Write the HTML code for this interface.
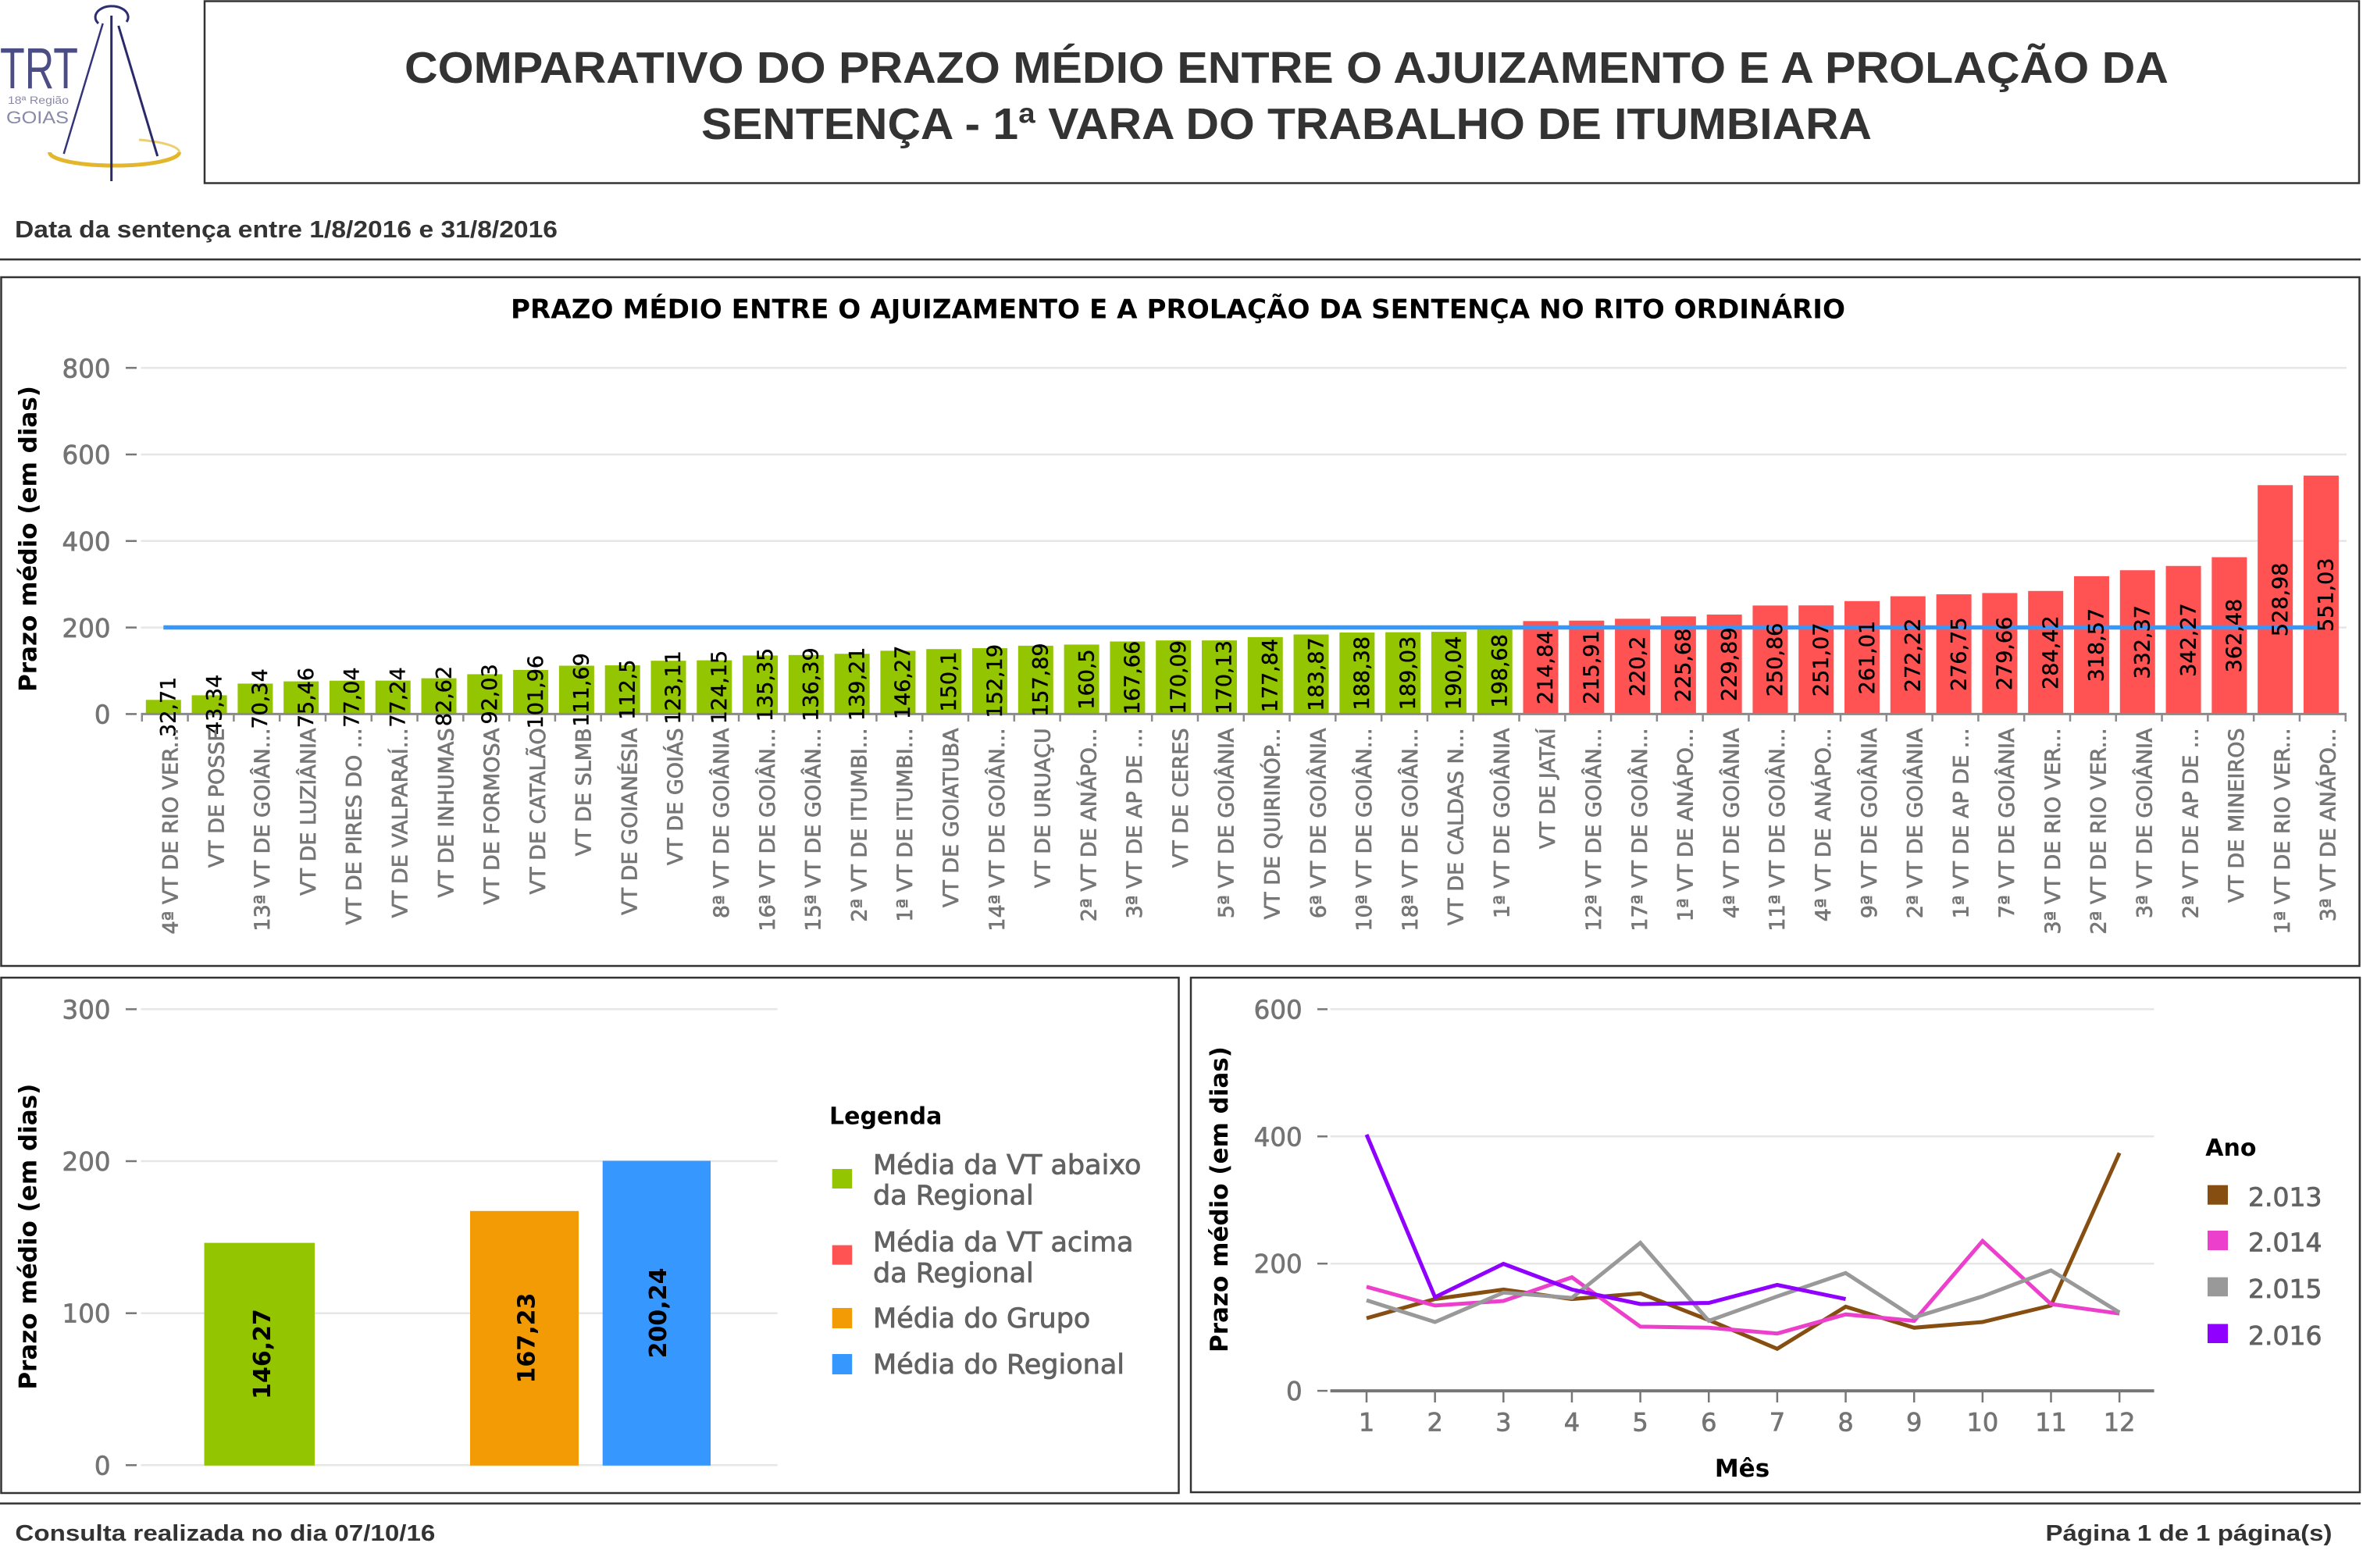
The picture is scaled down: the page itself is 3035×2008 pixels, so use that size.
<!DOCTYPE html>
<html><head><meta charset="utf-8"><style>
html,body{margin:0;padding:0;background:#fff;}
svg{display:block;}
.h{font-family:"Liberation Sans",Arial,sans-serif;font-weight:bold;fill:#333;}
.d{font-family:"DejaVu Sans",Verdana,sans-serif;}
.g{stroke:#747474;stroke-width:0.7;}
.gl{stroke:#626262;stroke-width:0.8;}
.bk{stroke:#000;stroke-width:0.4;}
</style></head><body>
<svg width="3035" height="2008" viewBox="0 0 3035 2008" xmlns="http://www.w3.org/2000/svg">
<rect width="3035" height="2008" fill="#fff"/>
<!-- Logo -->
<g>
<path d="M 63.5,195 A 83 17 0 0 0 229.5,195" fill="none" stroke="#e3b62c" stroke-width="5"/>
<path d="M 178,179 A 83 17 0 0 1 229.5,195" fill="none" stroke="#ecd070" stroke-width="3"/>
<path d="M 126,30 A 21 14 0 1 1 162,28" fill="none" stroke="#2d2d72" stroke-width="3"/>
<line x1="142.7" y1="20" x2="142.7" y2="232" stroke="#2a2a6a" stroke-width="3"/>
<line x1="131.7" y1="30" x2="81.7" y2="197" stroke="#34347a" stroke-width="2.5"/>
<line x1="151.7" y1="33" x2="201.7" y2="200" stroke="#2a2a6a" stroke-width="3"/>
<text x="0" y="113" font-family="Liberation Sans, Arial, sans-serif" font-size="74" fill="#4d4d85" textLength="100" lengthAdjust="spacingAndGlyphs">TRT</text>
<text x="10" y="133" font-family="Liberation Sans, Arial, sans-serif" font-size="14" fill="#8a8aa5" textLength="78" lengthAdjust="spacingAndGlyphs">18ª Região</text>
<text x="8" y="158" font-family="Liberation Sans, Arial, sans-serif" font-size="22" fill="#8888a8" textLength="80" lengthAdjust="spacingAndGlyphs">GOIAS</text>
</g>
<!-- Header -->
<rect x="262" y="1.5" width="2759" height="233" fill="none" stroke="#333" stroke-width="2.5"/>
<text class="h" x="518" y="106" font-size="57" textLength="2259" lengthAdjust="spacingAndGlyphs">COMPARATIVO DO PRAZO MÉDIO ENTRE O AJUIZAMENTO E A PROLAÇÃO DA</text>
<text class="h" x="898" y="178" font-size="57" textLength="1499" lengthAdjust="spacingAndGlyphs">SENTENÇA - 1ª VARA DO TRABALHO DE ITUMBIARA</text>
<text class="h" x="19" y="304" font-size="31" textLength="695" lengthAdjust="spacingAndGlyphs">Data da sentença entre 1/8/2016  e 31/8/2016</text>
<line x1="0" y1="332.3" x2="3023" y2="332.3" stroke="#333" stroke-width="2.5"/>

<!-- TOP CHART -->
<rect x="1.5" y="355" width="3020" height="882" fill="none" stroke="#333" stroke-width="2.5"/>
<text class="d" x="654" y="407.7" font-size="34" font-weight="bold" fill="#000" textLength="1709" lengthAdjust="spacingAndGlyphs">PRAZO MÉDIO ENTRE O AJUIZAMENTO E A PROLAÇÃO DA SENTENÇA NO RITO ORDINÁRIO</text>
<g stroke="#e6e6e6" stroke-width="2.5">
<line x1="180.5" y1="471.1" x2="3005" y2="471.1"/>
<line x1="180.5" y1="582" x2="3005" y2="582"/>
<line x1="180.5" y1="692.8" x2="3005" y2="692.8"/>
<line x1="180.5" y1="803.6" x2="3005" y2="803.6"/>
</g>
<g stroke="#777" stroke-width="2.5">
<line x1="161" y1="471.1" x2="175" y2="471.1"/>
<line x1="161" y1="582" x2="175" y2="582"/>
<line x1="161" y1="692.8" x2="175" y2="692.8"/>
<line x1="161" y1="803.6" x2="175" y2="803.6"/>
<line x1="161" y1="914.4" x2="175" y2="914.4"/>
</g>
<g class="d g" font-size="32.5" fill="#747474" text-anchor="end">
<text x="141.6" y="483.3">800</text>
<text x="141.6" y="594.2">600</text>
<text x="141.6" y="705">400</text>
<text x="141.6" y="815.8">200</text>
<text x="141.6" y="926.6">0</text>
</g>
<text class="d" transform="translate(46.3,690) rotate(-90)" text-anchor="middle" font-size="31" font-weight="bold" fill="#000">Prazo médio (em dias)</text>
<!-- bars -->
<g fill="#93c500">
<rect x="186.8" y="896.28" width="45" height="18.12"/>
<rect x="245.59" y="890.39" width="45" height="24.01"/>
<rect x="304.38" y="875.42" width="45" height="38.98"/>
<rect x="363.17" y="872.59" width="45" height="41.81"/>
<rect x="421.96" y="871.71" width="45" height="42.69"/>
<rect x="480.75" y="871.6" width="45" height="42.8"/>
<rect x="539.54" y="868.62" width="45" height="45.78"/>
<rect x="598.33" y="863.41" width="45" height="50.99"/>
<rect x="657.12" y="857.9" width="45" height="56.5"/>
<rect x="715.91" y="852.51" width="45" height="61.89"/>
<rect x="774.7" y="852.06" width="45" height="62.34"/>
<rect x="833.49" y="846.18" width="45" height="68.22"/>
<rect x="892.28" y="845.61" width="45" height="68.79"/>
<rect x="951.07" y="839.4" width="45" height="75"/>
<rect x="1009.86" y="838.83" width="45" height="75.57"/>
<rect x="1068.65" y="837.26" width="45" height="77.14"/>
<rect x="1127.44" y="833.35" width="45" height="81.05"/>
<rect x="1186.23" y="831.23" width="45" height="83.17"/>
<rect x="1245.02" y="830.07" width="45" height="84.33"/>
<rect x="1303.81" y="826.91" width="45" height="87.49"/>
<rect x="1362.6" y="825.47" width="45" height="88.93"/>
<rect x="1421.39" y="821.5" width="45" height="92.9"/>
<rect x="1480.18" y="820.15" width="45" height="94.25"/>
<rect x="1538.97" y="820.13" width="45" height="94.27"/>
<rect x="1597.76" y="815.86" width="45" height="98.54"/>
<rect x="1656.55" y="812.52" width="45" height="101.88"/>
<rect x="1715.34" y="810.02" width="45" height="104.38"/>
<rect x="1774.13" y="809.66" width="45" height="104.74"/>
<rect x="1832.92" y="809.1" width="45" height="105.3"/>
<rect x="1891.71" y="804.31" width="45" height="110.09"/>
</g>
<g fill="#ff5353">
<rect x="1950.5" y="795.36" width="45" height="119.04"/>
<rect x="2009.29" y="794.76" width="45" height="119.64"/>
<rect x="2068.08" y="792.39" width="45" height="122.01"/>
<rect x="2126.87" y="789.35" width="45" height="125.05"/>
<rect x="2185.66" y="787.02" width="45" height="127.38"/>
<rect x="2244.45" y="775.4" width="45" height="139"/>
<rect x="2303.24" y="775.28" width="45" height="139.12"/>
<rect x="2362.03" y="769.77" width="45" height="144.63"/>
<rect x="2420.82" y="763.56" width="45" height="150.84"/>
<rect x="2479.61" y="761.05" width="45" height="153.35"/>
<rect x="2538.4" y="759.44" width="45" height="154.96"/>
<rect x="2597.19" y="756.8" width="45" height="157.6"/>
<rect x="2655.98" y="737.88" width="45" height="176.52"/>
<rect x="2714.77" y="730.23" width="45" height="184.17"/>
<rect x="2773.56" y="724.75" width="45" height="189.65"/>
<rect x="2832.35" y="713.55" width="45" height="200.85"/>
<rect x="2891.14" y="621.29" width="45" height="293.11"/>
<rect x="2949.93" y="609.07" width="45" height="305.33"/>
</g>
<!-- x axis -->
<line x1="180.5" y1="914.4" x2="3005" y2="914.4" stroke="#8a8a8a" stroke-width="3"/>
<line x1="180.55" y1="919" x2="3006" y2="919" stroke="#8a8a8a" stroke-width="10" stroke-dasharray="2.5 56.29"/>
<!-- average line -->
<line x1="209.3" y1="803.45" x2="2972.4" y2="803.45" stroke="#3399ff" stroke-width="5.5"/>
<!-- value labels -->
<g class="d bk" font-size="27" fill="#000" text-anchor="middle">
<text transform="translate(214.8,905.34) rotate(-90)" dy="0.36em">32,71</text>
<text transform="translate(273.59,902.39) rotate(-90)" dy="0.36em">43,34</text>
<text transform="translate(332.38,894.91) rotate(-90)" dy="0.36em">70,34</text>
<text transform="translate(391.17,893.5) rotate(-90)" dy="0.36em">75,46</text>
<text transform="translate(449.96,893.06) rotate(-90)" dy="0.36em">77,04</text>
<text transform="translate(508.75,893) rotate(-90)" dy="0.36em">77,24</text>
<text transform="translate(567.54,891.51) rotate(-90)" dy="0.36em">82,62</text>
<text transform="translate(626.33,888.91) rotate(-90)" dy="0.36em">92,03</text>
<text transform="translate(685.12,886.15) rotate(-90)" dy="0.36em">101,96</text>
<text transform="translate(743.91,883.46) rotate(-90)" dy="0.36em">111,69</text>
<text transform="translate(802.7,883.23) rotate(-90)" dy="0.36em">112,5</text>
<text transform="translate(861.49,880.29) rotate(-90)" dy="0.36em">123,11</text>
<text transform="translate(920.28,880.01) rotate(-90)" dy="0.36em">124,15</text>
<text transform="translate(979.07,876.9) rotate(-90)" dy="0.36em">135,35</text>
<text transform="translate(1037.86,876.62) rotate(-90)" dy="0.36em">136,39</text>
<text transform="translate(1096.65,875.83) rotate(-90)" dy="0.36em">139,21</text>
<text transform="translate(1155.44,873.88) rotate(-90)" dy="0.36em">146,27</text>
<text transform="translate(1214.23,872.82) rotate(-90)" dy="0.36em">150,1</text>
<text transform="translate(1273.02,872.24) rotate(-90)" dy="0.36em">152,19</text>
<text transform="translate(1331.81,870.66) rotate(-90)" dy="0.36em">157,89</text>
<text transform="translate(1390.6,869.94) rotate(-90)" dy="0.36em">160,5</text>
<text transform="translate(1449.39,867.95) rotate(-90)" dy="0.36em">167,66</text>
<text transform="translate(1508.18,867.28) rotate(-90)" dy="0.36em">170,09</text>
<text transform="translate(1566.97,867.27) rotate(-90)" dy="0.36em">170,13</text>
<text transform="translate(1625.76,865.13) rotate(-90)" dy="0.36em">177,84</text>
<text transform="translate(1684.55,863.46) rotate(-90)" dy="0.36em">183,87</text>
<text transform="translate(1743.34,862.21) rotate(-90)" dy="0.36em">188,38</text>
<text transform="translate(1802.13,862.03) rotate(-90)" dy="0.36em">189,03</text>
<text transform="translate(1860.92,861.75) rotate(-90)" dy="0.36em">190,04</text>
<text transform="translate(1919.71,859.36) rotate(-90)" dy="0.36em">198,68</text>
<text transform="translate(1978.5,854.88) rotate(-90)" dy="0.36em">214,84</text>
<text transform="translate(2037.29,854.58) rotate(-90)" dy="0.36em">215,91</text>
<text transform="translate(2096.08,853.39) rotate(-90)" dy="0.36em">220,2</text>
<text transform="translate(2154.87,851.88) rotate(-90)" dy="0.36em">225,68</text>
<text transform="translate(2213.66,850.71) rotate(-90)" dy="0.36em">229,89</text>
<text transform="translate(2272.45,844.9) rotate(-90)" dy="0.36em">250,86</text>
<text transform="translate(2331.24,844.84) rotate(-90)" dy="0.36em">251,07</text>
<text transform="translate(2390.03,842.09) rotate(-90)" dy="0.36em">261,01</text>
<text transform="translate(2448.82,838.98) rotate(-90)" dy="0.36em">272,22</text>
<text transform="translate(2507.61,837.73) rotate(-90)" dy="0.36em">276,75</text>
<text transform="translate(2566.4,836.92) rotate(-90)" dy="0.36em">279,66</text>
<text transform="translate(2625.19,835.6) rotate(-90)" dy="0.36em">284,42</text>
<text transform="translate(2683.98,826.14) rotate(-90)" dy="0.36em">318,57</text>
<text transform="translate(2742.77,822.32) rotate(-90)" dy="0.36em">332,37</text>
<text transform="translate(2801.56,819.57) rotate(-90)" dy="0.36em">342,27</text>
<text transform="translate(2860.35,813.98) rotate(-90)" dy="0.36em">362,48</text>
<text transform="translate(2919.14,767.85) rotate(-90)" dy="0.36em">528,98</text>
<text transform="translate(2977.93,761.74) rotate(-90)" dy="0.36em">551,03</text>
</g>
<!-- x labels -->
<g class="d g" font-size="27" fill="#777" text-anchor="end">
<text transform="translate(217.8,932.4) rotate(-90)" dy="0.36em">4ª VT DE RIO VER...</text>
<text transform="translate(276.59,932.4) rotate(-90)" dy="0.36em">VT DE POSSE</text>
<text transform="translate(335.38,932.4) rotate(-90)" dy="0.36em">13ª VT DE GOIÂN...</text>
<text transform="translate(394.17,932.4) rotate(-90)" dy="0.36em">VT DE LUZIÂNIA</text>
<text transform="translate(452.96,932.4) rotate(-90)" dy="0.36em">VT DE PIRES DO ...</text>
<text transform="translate(511.75,932.4) rotate(-90)" dy="0.36em">VT DE VALPARAÍ...</text>
<text transform="translate(570.54,932.4) rotate(-90)" dy="0.36em">VT DE INHUMAS</text>
<text transform="translate(629.33,932.4) rotate(-90)" dy="0.36em">VT DE FORMOSA</text>
<text transform="translate(688.12,932.4) rotate(-90)" dy="0.36em">VT DE CATALÃO</text>
<text transform="translate(746.91,932.4) rotate(-90)" dy="0.36em">VT DE SLMB</text>
<text transform="translate(805.7,932.4) rotate(-90)" dy="0.36em">VT DE GOIANÉSIA</text>
<text transform="translate(864.49,932.4) rotate(-90)" dy="0.36em">VT DE GOIÁS</text>
<text transform="translate(923.28,932.4) rotate(-90)" dy="0.36em">8ª VT DE GOIÂNIA</text>
<text transform="translate(982.07,932.4) rotate(-90)" dy="0.36em">16ª VT DE GOIÂN...</text>
<text transform="translate(1040.86,932.4) rotate(-90)" dy="0.36em">15ª VT DE GOIÂN...</text>
<text transform="translate(1099.65,932.4) rotate(-90)" dy="0.36em">2ª VT DE ITUMBI...</text>
<text transform="translate(1158.44,932.4) rotate(-90)" dy="0.36em">1ª VT DE ITUMBI...</text>
<text transform="translate(1217.23,932.4) rotate(-90)" dy="0.36em">VT DE GOIATUBA</text>
<text transform="translate(1276.02,932.4) rotate(-90)" dy="0.36em">14ª VT DE GOIÂN...</text>
<text transform="translate(1334.81,932.4) rotate(-90)" dy="0.36em">VT DE URUAÇU</text>
<text transform="translate(1393.6,932.4) rotate(-90)" dy="0.36em">2ª VT DE ANÁPO...</text>
<text transform="translate(1452.39,932.4) rotate(-90)" dy="0.36em">3ª VT DE AP DE ...</text>
<text transform="translate(1511.18,932.4) rotate(-90)" dy="0.36em">VT DE CERES</text>
<text transform="translate(1569.97,932.4) rotate(-90)" dy="0.36em">5ª VT DE GOIÂNIA</text>
<text transform="translate(1628.76,932.4) rotate(-90)" dy="0.36em">VT DE QUIRINÓP...</text>
<text transform="translate(1687.55,932.4) rotate(-90)" dy="0.36em">6ª VT DE GOIÂNIA</text>
<text transform="translate(1746.34,932.4) rotate(-90)" dy="0.36em">10ª VT DE GOIÂN...</text>
<text transform="translate(1805.13,932.4) rotate(-90)" dy="0.36em">18ª VT DE GOIÂN...</text>
<text transform="translate(1863.92,932.4) rotate(-90)" dy="0.36em">VT DE CALDAS N...</text>
<text transform="translate(1922.71,932.4) rotate(-90)" dy="0.36em">1ª VT DE GOIÂNIA</text>
<text transform="translate(1981.5,932.4) rotate(-90)" dy="0.36em">VT DE JATAÍ</text>
<text transform="translate(2040.29,932.4) rotate(-90)" dy="0.36em">12ª VT DE GOIÂN...</text>
<text transform="translate(2099.08,932.4) rotate(-90)" dy="0.36em">17ª VT DE GOIÂN...</text>
<text transform="translate(2157.87,932.4) rotate(-90)" dy="0.36em">1ª VT DE ANÁPO...</text>
<text transform="translate(2216.66,932.4) rotate(-90)" dy="0.36em">4ª VT DE GOIÂNIA</text>
<text transform="translate(2275.45,932.4) rotate(-90)" dy="0.36em">11ª VT DE GOIÂN...</text>
<text transform="translate(2334.24,932.4) rotate(-90)" dy="0.36em">4ª VT DE ANÁPO...</text>
<text transform="translate(2393.03,932.4) rotate(-90)" dy="0.36em">9ª VT DE GOIÂNIA</text>
<text transform="translate(2451.82,932.4) rotate(-90)" dy="0.36em">2ª VT DE GOIÂNIA</text>
<text transform="translate(2510.61,932.4) rotate(-90)" dy="0.36em">1ª VT DE AP DE ...</text>
<text transform="translate(2569.4,932.4) rotate(-90)" dy="0.36em">7ª VT DE GOIÂNIA</text>
<text transform="translate(2628.19,932.4) rotate(-90)" dy="0.36em">3ª VT DE RIO VER...</text>
<text transform="translate(2686.98,932.4) rotate(-90)" dy="0.36em">2ª VT DE RIO VER...</text>
<text transform="translate(2745.77,932.4) rotate(-90)" dy="0.36em">3ª VT DE GOIÂNIA</text>
<text transform="translate(2804.56,932.4) rotate(-90)" dy="0.36em">2ª VT DE AP DE ...</text>
<text transform="translate(2863.35,932.4) rotate(-90)" dy="0.36em">VT DE MINEIROS</text>
<text transform="translate(2922.14,932.4) rotate(-90)" dy="0.36em">1ª VT DE RIO VER...</text>
<text transform="translate(2980.93,932.4) rotate(-90)" dy="0.36em">3ª VT DE ANÁPO...</text>
</g>

<!-- BOTTOM LEFT CHART -->
<rect x="1.5" y="1252" width="1508" height="660" fill="none" stroke="#333" stroke-width="2.5"/>
<g stroke="#e6e6e6" stroke-width="2.5">
<line x1="180.5" y1="1292.4" x2="995.6" y2="1292.4"/>
<line x1="180.5" y1="1487" x2="995.6" y2="1487"/>
<line x1="180.5" y1="1681.7" x2="995.6" y2="1681.7"/>
<line x1="180.5" y1="1876.3" x2="995.6" y2="1876.3"/>
</g>
<g stroke="#777" stroke-width="2.5">
<line x1="161" y1="1292.4" x2="175" y2="1292.4"/>
<line x1="161" y1="1487" x2="175" y2="1487"/>
<line x1="161" y1="1681.7" x2="175" y2="1681.7"/>
<line x1="161" y1="1876.3" x2="175" y2="1876.3"/>
</g>
<g class="d g" font-size="32.5" fill="#747474" text-anchor="end">
<text x="141.6" y="1304.4">300</text>
<text x="141.6" y="1499">200</text>
<text x="141.6" y="1693.7">100</text>
<text x="141.6" y="1888.3">0</text>
</g>
<text class="d" transform="translate(46.3,1583.7) rotate(-90)" text-anchor="middle" font-size="31" font-weight="bold" fill="#000">Prazo médio (em dias)</text>
<rect x="261.5" y="1591.6" width="141.5" height="285.2" fill="#93c500"/>
<rect x="602" y="1550.8" width="139" height="326" fill="#f29b04"/>
<rect x="771.7" y="1486.6" width="138.3" height="390.2" fill="#3698ff"/>
<g class="d" font-size="30" font-weight="bold" fill="#000" text-anchor="middle">
<text transform="translate(335,1733.95) rotate(-90)" dy="0.36em">146,27</text>
<text transform="translate(673.5,1713.56) rotate(-90)" dy="0.36em">167,23</text>
<text transform="translate(842,1681.43) rotate(-90)" dy="0.36em">200,24</text>
</g>
<text class="d" x="1062" y="1439.7" font-size="30" font-weight="bold" fill="#000">Legenda</text>
<rect x="1065.7" y="1497" width="25.5" height="25" fill="#93c500"/>
<rect x="1065.7" y="1594.6" width="25.5" height="25" fill="#ff5353"/>
<rect x="1065.7" y="1675" width="25.5" height="26" fill="#f29b04"/>
<rect x="1065.7" y="1734" width="25.5" height="26" fill="#3698ff"/>
<g class="d gl" font-size="35" fill="#626262">
<text x="1118" y="1503.6">Média da VT abaixo</text>
<text x="1118" y="1542.4">da Regional</text>
<text x="1118" y="1602.7">Média da VT acima</text>
<text x="1118" y="1642">da Regional</text>
<text x="1118" y="1700">Média do Grupo</text>
<text x="1118" y="1759">Média do Regional</text>
</g>

<!-- BOTTOM RIGHT CHART -->
<rect x="1525" y="1252" width="1497" height="659" fill="none" stroke="#333" stroke-width="2.5"/>
<g stroke="#e6e6e6" stroke-width="2.5">
<line x1="1703.6" y1="1292.4" x2="2758.6" y2="1292.4"/>
<line x1="1703.6" y1="1455.3" x2="2758.6" y2="1455.3"/>
<line x1="1703.6" y1="1618.2" x2="2758.6" y2="1618.2"/>
</g>
<g stroke="#777" stroke-width="2.5">
<line x1="1687" y1="1292.4" x2="1700" y2="1292.4"/>
<line x1="1687" y1="1455.3" x2="1700" y2="1455.3"/>
<line x1="1687" y1="1618.2" x2="1700" y2="1618.2"/>
<line x1="1687" y1="1781.1" x2="1700" y2="1781.1"/>
</g>
<g class="d g" font-size="32.5" fill="#747474" text-anchor="end">
<text x="1667.7" y="1304.4">600</text>
<text x="1667.7" y="1467.3">400</text>
<text x="1667.7" y="1630.2">200</text>
<text x="1667.7" y="1793.1">0</text>
</g>
<line x1="1703.6" y1="1781.1" x2="2758.6" y2="1781.1" stroke="#777" stroke-width="4"/>
<line x1="1748.75" y1="1788.5" x2="2716" y2="1788.5" stroke="#777" stroke-width="15" stroke-dasharray="2.5 85.15"/>
<g class="d g" font-size="32" fill="#747474" text-anchor="middle">
<text x="1750" y="1832.6">1</text>
<text x="1837.65" y="1832.6">2</text>
<text x="1925.3" y="1832.6">3</text>
<text x="2012.95" y="1832.6">4</text>
<text x="2100.6" y="1832.6">5</text>
<text x="2188.25" y="1832.6">6</text>
<text x="2275.9" y="1832.6">7</text>
<text x="2363.55" y="1832.6">8</text>
<text x="2451.2" y="1832.6">9</text>
<text x="2538.85" y="1832.6">10</text>
<text x="2626.5" y="1832.6">11</text>
<text x="2714.15" y="1832.6">12</text>
</g>
<text class="d" x="2231" y="1891" text-anchor="middle" font-size="31" font-weight="bold" fill="#000">Mês</text>
<text class="d" transform="translate(1571.8,1536) rotate(-90)" text-anchor="middle" font-size="31" font-weight="bold" fill="#000">Prazo médio (em dias)</text>
<g fill="none" stroke-width="5" stroke-linejoin="miter">
<polyline stroke="#864e11" points="1750,1688.1 1837.65,1663.6 1925.3,1651.4 2012.95,1663.6 2100.6,1656.3 2188.25,1690.5 2275.9,1727.3 2363.55,1673.4 2451.2,1700.3 2538.85,1693 2626.5,1671.9 2714.15,1476.5"/>
<polyline stroke="#ec40cc" points="1750,1647.9 1837.65,1671.9 1925.3,1666 2012.95,1635.7 2100.6,1698.9 2188.25,1700.3 2275.9,1707.7 2363.55,1683.2 2451.2,1691.5 2538.85,1589.2 2626.5,1670 2714.15,1682.2"/>
<polyline stroke="#999999" points="1750,1665.1 1837.65,1693 1925.3,1655.3 2012.95,1662.1 2100.6,1591.6 2188.25,1691.5 2275.9,1660.2 2363.55,1630.3 2451.2,1687.1 2538.85,1660.2 2626.5,1626.9 2714.15,1680.7"/>
<polyline stroke="#8f00ff" points="1750,1453 1837.65,1661.2 1925.3,1618.5 2012.95,1651.4 2100.6,1670 2188.25,1668.5 2275.9,1645.5 2363.55,1663.6"/>
</g>
<text class="d" x="2824.3" y="1480" font-size="30" font-weight="bold" fill="#000">Ano</text>
<rect x="2827" y="1517.7" width="26" height="25" fill="#864e11"/>
<rect x="2827" y="1576" width="26" height="25" fill="#ec40cc"/>
<rect x="2827" y="1635.7" width="26" height="24.5" fill="#999999"/>
<rect x="2827" y="1695.5" width="26" height="24.5" fill="#8f00ff"/>
<g class="d gl" font-size="33" fill="#626262">
<text x="2879" y="1544.3">2.013</text>
<text x="2879" y="1602.6">2.014</text>
<text x="2879" y="1662">2.015</text>
<text x="2879" y="1721.8">2.016</text>
</g>

<!-- Footer -->
<line x1="0" y1="1925.4" x2="3023" y2="1925.4" stroke="#333" stroke-width="2.5"/>
<text class="h" x="19.4" y="1973" font-size="29" textLength="538" lengthAdjust="spacingAndGlyphs">Consulta realizada no dia 07/10/16</text>
<text class="h" x="2619.5" y="1973" font-size="29" textLength="367" lengthAdjust="spacingAndGlyphs">Página 1 de 1 página(s)</text>
</svg>
</body></html>
